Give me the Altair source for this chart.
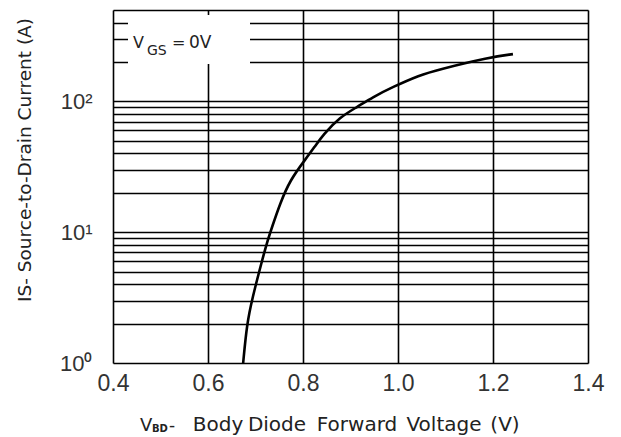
import altair as alt
import pandas as pd

# Curve
vsd = [0.674, 0.682, 0.693, 0.714, 0.724, 0.735, 0.752, 0.773, 0.804, 0.825,
       0.842, 0.878, 0.914, 0.947, 0.989, 1.046, 1.082, 1.194, 1.242]
i_s = [1.0, 2.0, 3.1, 6.1, 8.3, 11.0, 16.7, 25.1, 35.6, 45.2,
       55.4, 76.0, 90.6, 108, 129, 159, 174, 218, 230]

x_ticks = [0.4, 0.6, 0.8, 1.0, 1.2, 1.4]
y_grid = [1, 2, 3, 4, 5, 6, 7, 8, 9,
          10, 20, 30, 40, 50, 60, 70, 80, 90,
          100, 200, 300, 400, 500]
y_domain = [1, 500]
x_domain = [0.4, 1.4]

# x-axis title words (subscripted "BD" after the "V"), centred positions
xtitle_words = ["Body", "Diode", "Forward", "Voltage", "(V)"]
xtitle_word_x = [105, 164, 244, 331, 392]

W, H = 475, 353
FONT_T = "DejaVu Sans"
FONT_L = "Liberation Sans"

curve_df = pd.DataFrame({"v": vsd, "i": i_s})

x_enc = alt.X("v:Q", scale=alt.Scale(domain=x_domain, nice=False, zero=False),
              axis=alt.Axis(values=x_ticks, format=".1f", title=None, grid=True,
                            gridColor="black", gridWidth=1.6, gridOpacity=1,
                            ticks=False, domain=False, labelFont=FONT_L,
                            labelFontSize=23, labelColor="#333", labelPadding=9,
                            labelFlush=False))
y_enc = alt.Y("i:Q", scale=alt.Scale(type="log", domain=y_domain, nice=False),
              axis=alt.Axis(values=y_grid, title=None, grid=True,
                            gridColor="black", gridWidth=1.6, gridOpacity=1,
                            ticks=False, domain=False, labelFont=FONT_L,
                            labelFontSize=22, labelColor="#333", labelPadding=21,
                            labelExpr="datum.value == 1 ? '10⁰' : datum.value == 10 ? '10¹' : datum.value == 100 ? '10²' : ''"))

curve = alt.Chart(curve_df).mark_line(color="black", strokeWidth=2.6,
                                      interpolate="basis", clip=True).encode(x=x_enc, y=y_enc)

box = alt.Chart(pd.DataFrame({"a": [0]})).mark_rect(color="white").encode(
    x=alt.value(15), x2=alt.value(137), y=alt.value(5), y2=alt.value(54))


def txt(s, x, y, size, font=FONT_T, weight="normal", align="left"):
    return alt.Chart(pd.DataFrame({"t": [s]})).mark_text(
        align=align, baseline="alphabetic", font=font, fontSize=size,
        color="#222", fontWeight=weight).encode(
        text="t:N", x=alt.value(x), y=alt.value(y))


vgs = (txt("V", 20, 38, 16) + txt("GS", 34, 45, 14) + txt("=", 59, 38, 16)
       + txt("0V", 76, 38, 17))

xt = txt("V", 27, 421, 18) + txt("BD", 39, 422, 10, weight="bold") + txt("-", 56, 421, 17)
for w, px in zip(xtitle_words, xtitle_word_x):
    xt = xt + txt(w, px, 421, 20, align="center")

ytitle = alt.Chart(pd.DataFrame({"t": ["IS- Source-to-Drain Current (A)"]})).mark_text(
    align="center", baseline="middle", font=FONT_T, fontSize=18.5, color="#222",
    angle=270).encode(text="t:N", x=alt.value(-88), y=alt.value(150))

chart = alt.layer(box, curve, vgs, xt, ytitle).properties(
    width=W, height=H,
    autosize=alt.AutoSizeParams(type="none"),
    padding={"left": 105, "top": 2, "right": 25, "bottom": 73},
).configure_view(stroke="black", strokeWidth=2.4).configure(background="white")

chart.save("out.html", embed_options={"renderer": "svg", "actions": False})
